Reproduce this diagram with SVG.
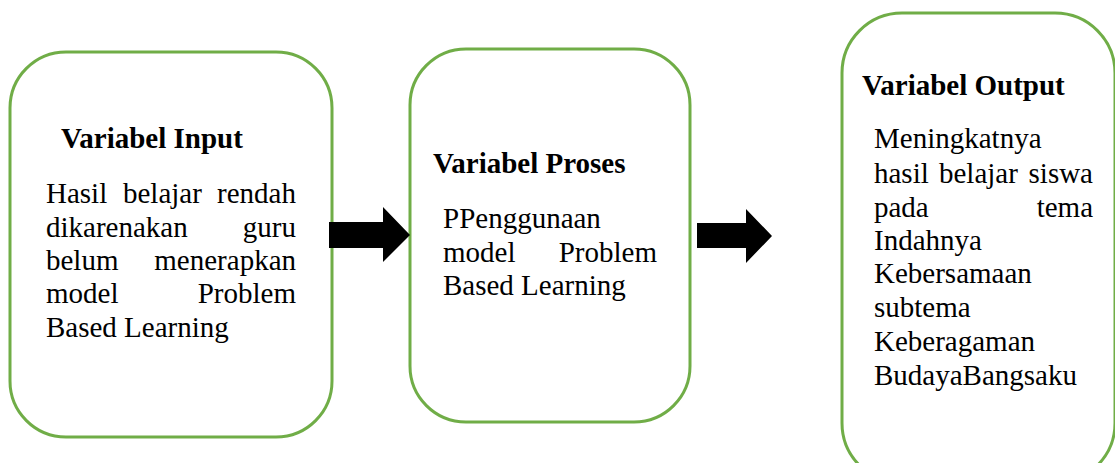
<svg xmlns="http://www.w3.org/2000/svg" width="1115" height="463" viewBox="0 0 1115 463">
<style>
.box{fill:#fff;stroke:#70AD47;stroke-width:3}
.t{font-family:"Liberation Serif","Times New Roman",serif;font-size:29px;fill:#000}
.b{font-weight:bold}
.e{text-anchor:end}
.arrow{fill:#000}
</style>
<rect width="1115" height="463" fill="#fff"/>
<g id="node-input">
<rect class="box" x="10" y="52" width="322" height="385" rx="56" ry="56"/>
<text class="t b" x="61" y="148">Variabel Input</text>
<text class="t" x="46" y="203">Hasil</text><text class="t" x="123" y="203">belajar</text><text class="t e" x="296" y="203">rendah</text>
<text class="t" x="46" y="237">dikarenakan</text><text class="t e" x="296" y="237">guru</text>
<text class="t" x="46" y="270">belum</text><text class="t e" x="296" y="270">menerapkan</text>
<text class="t" x="46" y="303">model</text><text class="t e" x="296" y="303">Problem</text>
<text class="t" x="46" y="337">Based Learning</text>
</g>
<g id="node-proses">
<rect class="box" x="410" y="49" width="280" height="373" rx="56" ry="56"/>
<text class="t b" x="433" y="173">Variabel Proses</text>
<text class="t" x="443" y="228">PPenggunaan</text>
<text class="t" x="443" y="262">model</text><text class="t e" x="657" y="262">Problem</text>
<text class="t" x="443" y="295">Based Learning</text>
</g>
<g id="node-output">
<rect class="box" x="842" y="13" width="273" height="470" rx="60" ry="60"/>
<text class="t b" x="862" y="95">Variabel Output</text>
<text class="t" x="874" y="148">Meningkatnya</text>
<text class="t" x="874" y="183">hasil</text><text class="t" x="939" y="183">belajar</text><text class="t e" x="1093" y="183">siswa</text>
<text class="t" x="874" y="217">pada</text><text class="t e" x="1093" y="217">tema</text>
<text class="t" x="874" y="250">Indahnya</text>
<text class="t" x="874" y="283">Kebersamaan</text>
<text class="t" x="874" y="317">subtema</text>
<text class="t" x="874" y="351">Keberagaman</text>
<text class="t" x="874" y="385">BudayaBangsaku</text>
</g>
<g id="connectors">
<polygon class="arrow" points="329,222 383,222 383,207 410,235 383,262 383,248 329,248"/>
<polygon class="arrow" points="697,223 746,223 746,209 772,236 746,263 746,248 697,248"/>
</g>
</svg>
